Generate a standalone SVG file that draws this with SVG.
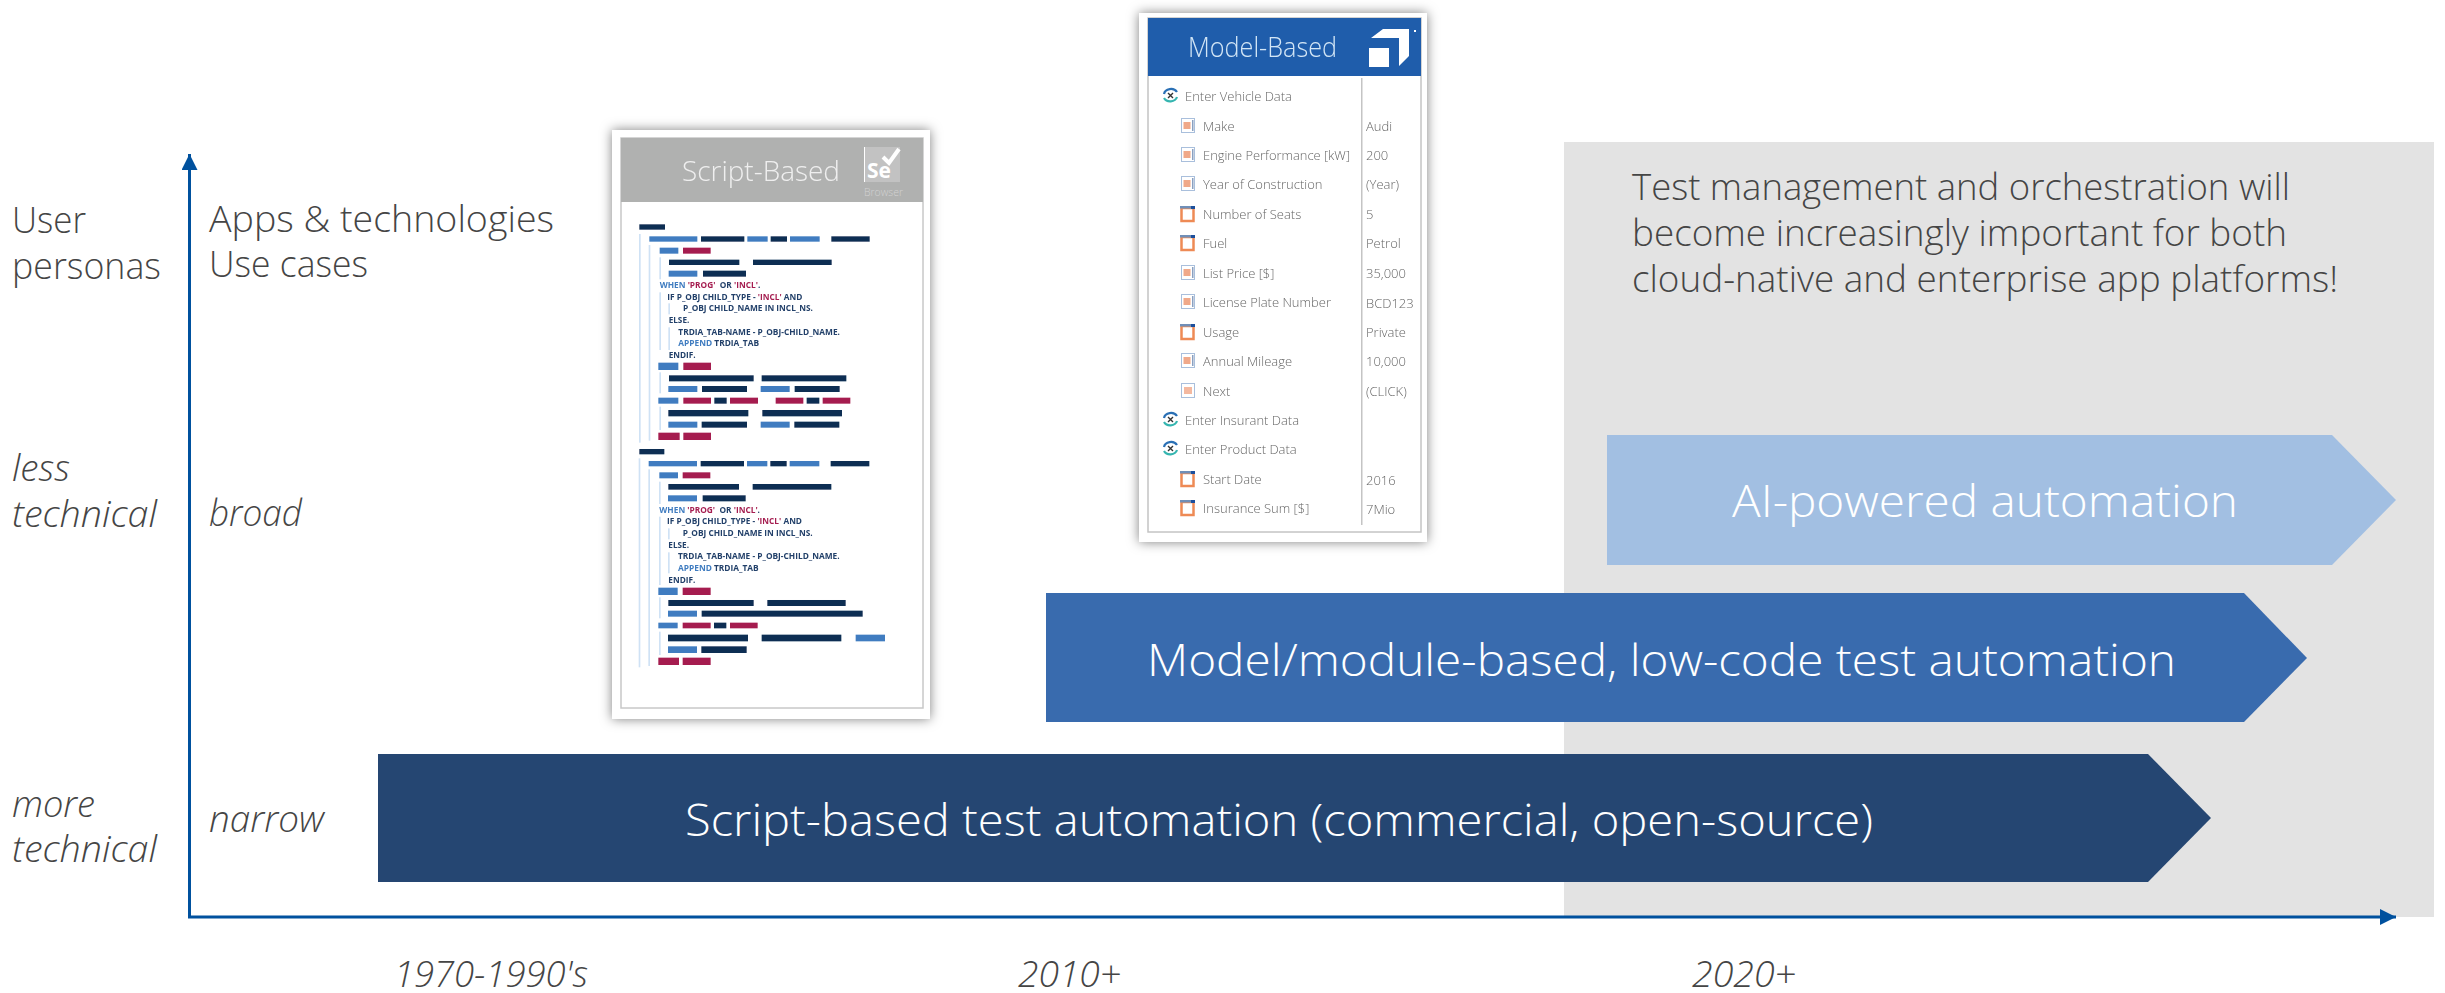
<svg xmlns="http://www.w3.org/2000/svg" xmlns:xlink="http://www.w3.org/1999/xlink" width="2445" height="993" viewBox="0 0 2445 993">
<style>
text{font-family:"Open Sans","Noto Sans","Liberation Sans",sans-serif;font-weight:300}
.lbl{font-size:37px;fill:#454545}
.it{font-style:italic}
.bar{font-size:44px;fill:#fff}
.d{fill:#0f2d52}.b{fill:#3f7cc0}.r{fill:#a51e50}.l{fill:#cfe2f5}
.code{font-size:24px;font-weight:700;fill:#24416a}
.code .k{fill:#3f7cc0}.code .s{fill:#a51e50}
.row{font-size:13px;fill:#666;font-weight:400}
.card{fill:#fff;filter:url(#shadow)}
</style>
<defs>
<filter id="shadow" x="-12%" y="-12%" width="124%" height="124%"><feDropShadow dx="0" dy="0" stdDeviation="6" flood-color="#000" flood-opacity=".5"/></filter>
<filter id="soft" x="-5%" y="-5%" width="110%" height="110%"><feGaussianBlur stdDeviation="0.5"/></filter>
<marker id="ah" markerUnits="userSpaceOnUse" markerWidth="16" markerHeight="16" refX="16" refY="8" orient="auto"><path d="M0 0L16 8L0 16z" fill="#00519e"/></marker>
<g id="ab"><rect x="0.5" y="0.5" width="13" height="14" fill="#fff" stroke="#a9bfdc"/><rect x="2.5" y="4" width="7" height="7" fill="#f0a98a"/><rect x="11" y="2" width="1.5" height="11" fill="#8aa0c0"/></g>
<g id="sel"><rect x="1.500" y="2" width="12" height="13" fill="#fff" stroke="#ee8a55" stroke-width="2.500"/><rect x="0" y="0" width="15" height="2.500" fill="#6f8fb8"/><rect x="11" y="0" width="4" height="3" fill="#1f4f9c"/></g>
<g id="btn"><rect x="0.5" y="0.5" width="13" height="14" fill="#fff" stroke="#a9bfdc"/><rect x="3" y="4" width="8" height="7" fill="#f4b9a0"/></g>
<g id="mod"><path d="M1 6A7 6 0 0 1 14 4" fill="none" stroke="#2a6fb5" stroke-width="2.200"/><path d="M14 9A7 6 0 0 1 1 10" fill="none" stroke="#35b5b0" stroke-width="2.200"/><path d="M5 5L10 10M10 5L5 10" stroke="#333" stroke-width="1.400"/></g>
<g id="codeblock">
<text class="code" x="179" y="505" textLength="302" lengthAdjust="spacingAndGlyphs" xml:space="preserve"><tspan class="k">WHEN</tspan> <tspan class="s">'PROG'</tspan>  OR <tspan class="s">'INCL'</tspan>.</text>
<text class="code" x="202" y="539" textLength="405" lengthAdjust="spacingAndGlyphs">IF P_OBJ CHILD_TYPE - <tspan class="s">'INCL'</tspan> AND</text>
<text class="code" x="249" y="574" textLength="390" lengthAdjust="spacingAndGlyphs">P_OBJ CHILD_NAME IN INCL_NS.</text>
<text class="code" x="206" y="610" textLength="62" lengthAdjust="spacingAndGlyphs">ELSE.</text>
<text class="code" x="235" y="644" textLength="485" lengthAdjust="spacingAndGlyphs">TRDIA_TAB-NAME - P_OBJ-CHILD_NAME.</text>
<text class="code" x="235" y="678" textLength="242" lengthAdjust="spacingAndGlyphs"><tspan class="k">APPEND</tspan> TRDIA_TAB</text>
<text class="code" x="206" y="714" textLength="81" lengthAdjust="spacingAndGlyphs">ENDIF.</text>
</g>
</defs>
<rect width="2445" height="993" fill="#fff"/>
<rect id="future-zone" x="1564" y="142" width="870" height="775" fill="#e3e3e3"/>
<g id="connectors" fill="none" stroke="#00519e" stroke-width="3">
<path d="M189.500 917V154" marker-end="url(#ah)"/>
<path d="M188 917H2396" marker-end="url(#ah)"/>
</g>
<g id="axis-labels">
<text class="lbl" x="12" y="233" textLength="74" lengthAdjust="spacingAndGlyphs">User</text>
<text class="lbl" x="12" y="279" textLength="149" lengthAdjust="spacingAndGlyphs">personas</text>
<text class="lbl" x="209" y="232" textLength="345" lengthAdjust="spacingAndGlyphs">Apps &amp; technologies</text>
<text class="lbl" x="209" y="277" textLength="159" lengthAdjust="spacingAndGlyphs">Use cases</text>
<text class="lbl it" x="12" y="481" textLength="58" lengthAdjust="spacingAndGlyphs">less</text>
<text class="lbl it" x="12" y="527" textLength="145" lengthAdjust="spacingAndGlyphs">technical</text>
<text class="lbl it" x="209" y="526" textLength="93" lengthAdjust="spacingAndGlyphs">broad</text>
<text class="lbl it" x="12" y="817" textLength="83" lengthAdjust="spacingAndGlyphs">more</text>
<text class="lbl it" x="12" y="862" textLength="145" lengthAdjust="spacingAndGlyphs">technical</text>
<text class="lbl it" x="209" y="832" textLength="115" lengthAdjust="spacingAndGlyphs">narrow</text>
<text class="lbl it" x="394" y="987" textLength="194" lengthAdjust="spacingAndGlyphs">1970-1990's</text>
<text class="lbl it" x="1018" y="987" textLength="103" lengthAdjust="spacingAndGlyphs">2010+</text>
<text class="lbl it" x="1692" y="987" textLength="104" lengthAdjust="spacingAndGlyphs">2020+</text>
</g>
<g id="note">
<text class="lbl" x="1632" y="200" textLength="658" lengthAdjust="spacingAndGlyphs">Test management and orchestration will</text>
<text class="lbl" x="1632" y="246" textLength="655" lengthAdjust="spacingAndGlyphs">become increasingly important for both</text>
<text class="lbl" x="1632" y="292" textLength="706" lengthAdjust="spacingAndGlyphs">cloud-native and enterprise app platforms!</text>
</g>
<g id="arrow-ai"><path d="M1607 435H2332L2396 500L2332 565H1607z" fill="#a2bfe2"/>
<text class="bar" x="1732" y="517" textLength="506" lengthAdjust="spacingAndGlyphs">AI-powered automation</text></g>
<g id="arrow-model"><path d="M1046 593H2244L2307 658L2244 722H1046z" fill="#396bae"/>
<text class="bar" x="1147" y="676" textLength="1029" lengthAdjust="spacingAndGlyphs">Model/module-based, low-code test automation</text></g>
<g id="arrow-script"><path d="M378 754H2148L2211 818L2148 882H378z" fill="#254672"/>
<text class="bar" x="685" y="836" textLength="1188" lengthAdjust="spacingAndGlyphs">Script-based test automation (commercial, open-source)</text></g>

<g id="script-card">
<rect class="card" x="612" y="130" width="318" height="589"/>
<rect x="621" y="138" width="302" height="570" fill="#fff" stroke="#c8c8c8" stroke-width="1.500"/>
<rect x="621" y="138" width="302" height="64" fill="#b0b1b0"/>
<text x="682" y="181" font-size="27" fill="#efefef" textLength="158" lengthAdjust="spacingAndGlyphs" filter="url(#soft)">Script-Based</text>
<rect x="864" y="147" width="36" height="35" fill="#c2c2c2"/>
<rect x="864" y="147" width="1" height="35" fill="#fff"/>
<text x="867" y="178" font-size="21" fill="#fff" style="font-weight:700">Se</text>
<path d="M883 157L889 163L899 149" fill="none" stroke="#fff" stroke-width="4"/>
<text x="864" y="196" font-size="11" fill="#d2d2d2" textLength="39" lengthAdjust="spacingAndGlyphs">Browser</text>
<g transform="translate(600 120) scale(.33333)" filter="url(#soft)">
<rect class="l" x="117" y="342" width="5" height="626"/><rect class="l" x="146" y="375" width="5" height="587"/>
<rect class="l" x="178" y="412" width="5" height="66"/><rect class="l" x="178" y="517" width="5" height="173"/>
<rect class="l" x="205" y="550" width="5" height="33"/><rect class="l" x="205" y="622" width="5" height="68"/>
<rect class="l" x="178" y="757" width="5" height="63"/><rect class="l" x="178" y="860" width="5" height="70"/>
<rect class="l" x="116" y="1015" width="5" height="627"/><rect class="l" x="145" y="1048" width="5" height="590"/>
<rect class="l" x="177" y="1085" width="5" height="67"/><rect class="l" x="177" y="1190" width="5" height="205"/>
<rect class="l" x="204" y="1225" width="5" height="33"/><rect class="l" x="204" y="1297" width="5" height="63"/>
<rect class="l" x="177" y="1432" width="5" height="63"/><rect class="l" x="177" y="1535" width="5" height="70"/>
<rect class="d" x="118" y="313" width="77" height="16"/>
<rect class="b" x="148" y="349" width="144" height="16"/><rect class="d" x="303" y="349" width="130" height="16"/><rect class="b" x="442" y="349" width="61" height="16"/><rect class="d" x="512" y="349" width="49" height="16"/><rect class="b" x="570" y="349" width="89" height="16"/><rect class="d" x="694" y="349" width="115" height="16"/>
<rect class="b" x="179" y="383" width="56" height="18"/><rect class="r" x="249" y="383" width="83" height="18"/>
<rect class="d" x="207" y="419" width="211" height="16"/><rect class="d" x="459" y="419" width="236" height="16"/>
<rect class="b" x="206" y="452" width="86" height="18"/><rect class="d" x="309" y="452" width="129" height="18"/>
<use href="#codeblock"/>
<rect class="b" x="175" y="728" width="60" height="22"/><rect class="r" x="250" y="728" width="83" height="22"/>
<rect class="d" x="207" y="766" width="254" height="18"/><rect class="d" x="485" y="766" width="254" height="18"/>
<rect class="b" x="205" y="798" width="87" height="18"/><rect class="d" x="306" y="798" width="135" height="18"/><rect class="b" x="482" y="798" width="87" height="18"/><rect class="d" x="584" y="798" width="135" height="18"/>
<rect class="b" x="175" y="833" width="60" height="18"/><rect class="r" x="250" y="833" width="83" height="18"/><rect class="d" x="343" y="833" width="37" height="18"/><rect class="r" x="390" y="833" width="84" height="18"/><rect class="r" x="527" y="833" width="83" height="18"/><rect class="d" x="620" y="833" width="38" height="18"/><rect class="r" x="668" y="833" width="83" height="18"/>
<rect class="d" x="205" y="870" width="240" height="19"/><rect class="d" x="487" y="870" width="239" height="19"/>
<rect class="b" x="205" y="905" width="87" height="18"/><rect class="d" x="305" y="905" width="136" height="18"/><rect class="b" x="482" y="905" width="87" height="18"/><rect class="d" x="583" y="905" width="135" height="18"/>
<rect class="r" x="175" y="938" width="64" height="22"/><rect class="r" x="250" y="938" width="83" height="22"/>
<rect class="d" x="118" y="987" width="75" height="16"/>
<rect class="b" x="146" y="1023" width="145" height="16"/><rect class="d" x="302" y="1023" width="130" height="16"/><rect class="b" x="441" y="1023" width="61" height="16"/><rect class="d" x="511" y="1023" width="49" height="16"/><rect class="b" x="569" y="1023" width="89" height="16"/><rect class="d" x="692" y="1023" width="116" height="16"/>
<rect class="b" x="178" y="1057" width="56" height="18"/><rect class="r" x="248" y="1057" width="83" height="18"/>
<rect class="d" x="205" y="1092" width="212" height="17"/><rect class="d" x="458" y="1092" width="236" height="17"/>
<rect class="b" x="204" y="1126" width="87" height="18"/><rect class="d" x="308" y="1126" width="129" height="18"/>
<use href="#codeblock" x="-1" y="674"/>
<rect class="b" x="175" y="1403" width="58" height="22"/><rect class="r" x="248" y="1403" width="84" height="22"/>
<rect class="d" x="205" y="1440" width="256" height="18"/><rect class="d" x="502" y="1440" width="235" height="18"/>
<rect class="b" x="204" y="1472" width="87" height="18"/><rect class="d" x="305" y="1472" width="483" height="18"/>
<rect class="b" x="175" y="1508" width="58" height="17"/><rect class="r" x="248" y="1508" width="84" height="17"/><rect class="d" x="342" y="1508" width="37" height="17"/><rect class="r" x="390" y="1508" width="83" height="17"/>
<rect class="d" x="204" y="1544" width="240" height="20"/><rect class="d" x="485" y="1544" width="239" height="20"/><rect class="b" x="767" y="1544" width="88" height="20"/>
<rect class="b" x="204" y="1579" width="87" height="20"/><rect class="d" x="304" y="1579" width="136" height="20"/>
<rect class="r" x="175" y="1613" width="62" height="22"/><rect class="r" x="248" y="1613" width="84" height="22"/>
</g>
</g>

<g id="model-card">
<rect class="card" x="1139" y="13" width="288" height="529"/>
<rect x="1148" y="18" width="273" height="514" fill="#fff" stroke="#c4c4c4" stroke-width="1.500"/>
<rect x="1148" y="18" width="273" height="58" fill="#1f5dab"/>
<text x="1188" y="57" font-size="27" fill="#d3e6f6" textLength="149" lengthAdjust="spacingAndGlyphs" filter="url(#soft)">Model-Based</text>
<path d="M1371 38L1383 29H1409V56L1399 66V38z" fill="#fff"/><rect x="1369" y="48" width="20" height="19" fill="#fff"/><rect x="1414" y="30" width="2" height="2" fill="#fff"/>
<rect x="1361" y="78" width="1.500" height="447" fill="#c4c4c4"/>
<g filter="url(#soft)">
<use href="#mod" x="1163" y="88"/><use href="#mod" x="1163" y="412"/><use href="#mod" x="1163" y="441"/>
<use href="#ab" x="1181" y="118"/><use href="#ab" x="1181" y="147"/><use href="#ab" x="1181" y="176"/>
<use href="#sel" x="1180" y="206"/><use href="#sel" x="1180" y="235"/>
<use href="#ab" x="1181" y="265"/><use href="#ab" x="1181" y="294"/>
<use href="#sel" x="1180" y="324"/><use href="#ab" x="1181" y="353"/><use href="#btn" x="1181" y="383"/>
<use href="#sel" x="1180" y="471"/><use href="#sel" x="1180" y="500"/>
<g class="row">
<text x="1185" y="101">Enter Vehicle Data</text>
<text x="1203" y="131">Make</text><text x="1366" y="131">Audi</text>
<text x="1203" y="160" textLength="147" lengthAdjust="spacingAndGlyphs">Engine Performance [kW]</text><text x="1366" y="160">200</text>
<text x="1203" y="189">Year of Construction</text><text x="1366" y="189">(Year)</text>
<text x="1203" y="219">Number of Seats</text><text x="1366" y="219">5</text>
<text x="1203" y="248">Fuel</text><text x="1366" y="248">Petrol</text>
<text x="1203" y="278">List Price [$]</text><text x="1366" y="278">35,000</text>
<text x="1203" y="307">License Plate Number</text><text x="1366" y="308">BCD123</text>
<text x="1203" y="337">Usage</text><text x="1366" y="337">Private</text>
<text x="1203" y="366">Annual Mileage</text><text x="1366" y="366">10,000</text>
<text x="1203" y="396">Next</text><text x="1366" y="396">(CLICK)</text>
<text x="1185" y="425">Enter Insurant Data</text>
<text x="1185" y="454">Enter Product Data</text>
<text x="1203" y="484">Start Date</text><text x="1366" y="485">2016</text>
<text x="1203" y="513">Insurance Sum [$]</text><text x="1366" y="514">7Mio</text>
</g>
</g>
</g>
</svg>
